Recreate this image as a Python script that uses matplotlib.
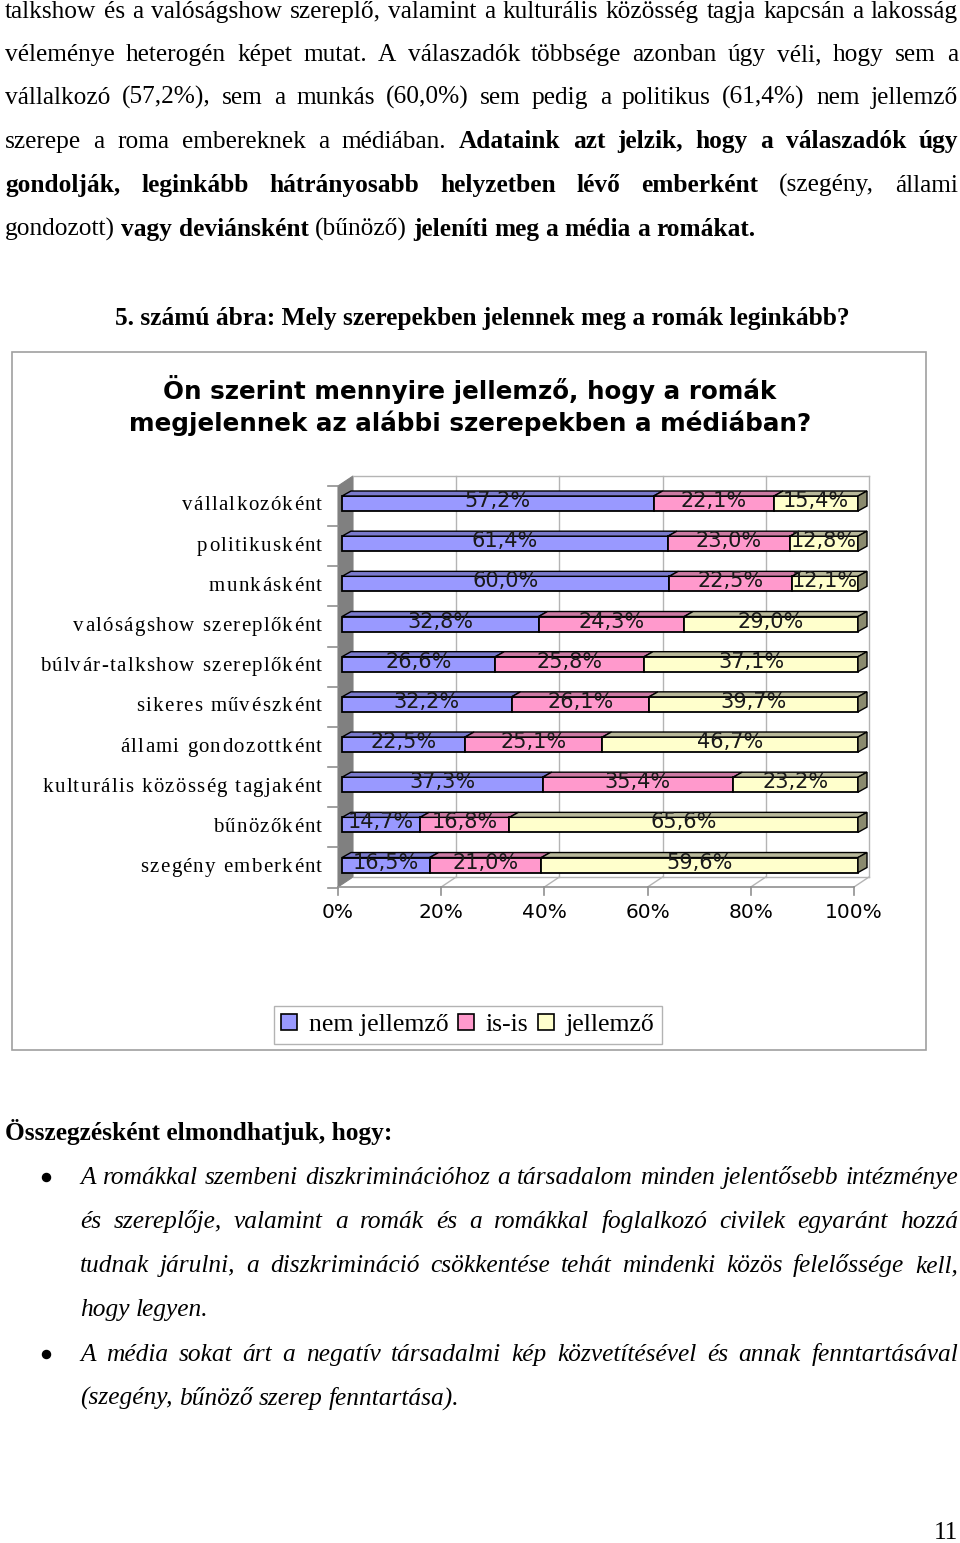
import matplotlib
matplotlib.use('Agg')
import matplotlib.pyplot as plt
from matplotlib.patches import Polygon, Rectangle
from matplotlib.lines import Line2D
import numpy as np

W, H = 960, 1543

# Adatok (5. számú ábra)
categories = ['vállalkozóként', 'politikusként', 'munkásként', 'valóságshow szereplőként',
              'búlvár-talkshow szereplőként', 'sikeres művészként', 'állami gondozottként',
              'kulturális közösség tagjaként', 'bűnözőként', 'szegény emberként']
nem_jellemzo = [57.2, 61.4, 60.0, 32.8, 26.6, 32.2, 22.5, 37.3, 14.7, 16.5]
is_is = [22.1, 23.0, 22.5, 24.3, 25.8, 26.1, 25.1, 35.4, 16.8, 21.0]
jellemzo = [15.4, 12.8, 12.1, 29.0, 37.1, 39.7, 46.7, 23.2, 65.6, 59.6]
series_names = ['nem jellemző', 'is-is', 'jellemző']
x_ticks = [0, 20, 40, 60, 80, 100]

colors = ['#9999FF', '#FF99CC', '#FFFFCC']
top_colors = ['#7A7ACC', '#CC7AA3', '#B8B89A']
side_color = '#8A8A6E'
FS = 18.3

fig = plt.figure(figsize=(W / 100, H / 100), dpi=100)
renderer = fig.canvas.get_renderer()


def fy(y):
    return 1 - y / H


# ---- szöveg sorkizárással ----
def text_line(y, parts, x0, x1=None, size=FS, style='normal'):
    words = []
    for s, weight in parts:
        for w in s.split():
            words.append((w, weight))
    arts = [fig.text(0, fy(y), w, fontsize=size, family='Liberation Serif', weight=wt,
                     style=style, va='baseline', ha='left') for w, wt in words]
    widths = [t.get_window_extent(renderer).width for t in arts]
    if x1 is None:
        gap = size * 100 / 72 * 0.25
    else:
        gap = (x1 - x0 - sum(widths)) / (len(arts) - 1)
    x = x0
    for t, wd in zip(arts, widths):
        t.set_x(x / W)
        x += wd + gap


N = 'normal'
B = 'bold'
text_line(18, [("talkshow és a valóságshow szereplő, valamint a kulturális közösség tagja kapcsán a lakosság", N)], 5, 958)
text_line(61, [("véleménye heterogén képet mutat. A válaszadók többsége azonban úgy véli, hogy sem a", N)], 5, 958)
text_line(104, [("vállalkozó (57,2%), sem a munkás (60,0%) sem pedig a politikus (61,4%) nem jellemző", N)], 5, 958)
text_line(148, [("szerepe a roma embereknek a médiában.", N), ("Adataink azt jelzik, hogy a válaszadók úgy", B)], 5, 958)
text_line(192, [("gondolják, leginkább hátrányosabb helyzetben lévő emberként", B), ("(szegény, állami", N)], 5, 958)
text_line(236, [("gondozott)", N), ("vagy deviánsként", B), ("(bűnöző)", N), ("jeleníti meg a média a romákat.", B)], 5)

fig.text(482 / W, fy(325), "5. számú ábra: Mely szerepekben jelennek meg a romák leginkább?",
         ha='center', va='baseline', fontsize=FS, family='Liberation Serif', weight='bold')

# keret
fig.patches.append(Rectangle((12 / W, fy(1050)), 914 / W, 698 / H, transform=fig.transFigure,
                             fill=False, edgecolor='#A0A0A0', linewidth=1.2))

# diagram címe
t1 = fig.text(470 / W, fy(390), "Ön szerint mennyire jellemző, hogy a romák", ha='center', va='center',
              fontsize=17, family='DejaVu Sans', weight='bold')
t2 = fig.text(470 / W, fy(423), "megjelennek az alábbi szerepekben a médiában?", ha='center', va='center',
              fontsize=17, family='DejaVu Sans', weight='bold')
scale = 682 / t2.get_window_extent(renderer).width
t1.set_fontsize(17 * scale)
t2.set_fontsize(17 * scale)

# ---- diagram ----
PX = 5.16    # pixel / %
PY = 40.17   # pixel / sor
X0, Y0 = 342, 503.5


def dx(p):
    return p / PX


def dy(p):
    return p / PY


def X(p):
    return (p - X0) / PX


def Y(p):
    return (p - Y0) / PY


ax = fig.add_axes([300 / W, fy(940), 600 / W, 475 / H])
ax.set_xlim(X(300), X(900))
ax.set_ylim(Y(940), Y(465))
ax.axis('off')

grid_c = '#B4B4B4'
# fal
ax.add_patch(Polygon([(dx(-4), Y(486)), (dx(11), Y(476)), (dx(11), Y(877)), (dx(-4), Y(887))],
                     closed=True, facecolor='#808080', edgecolor='#808080', lw=0.8, zorder=1))
ax.plot([dx(11), 100 + dx(11)], [Y(476), Y(476)], color=grid_c, lw=1, zorder=1)
ax.plot([dx(11), 100 + dx(11)], [Y(877), Y(877)], color=grid_c, lw=1, zorder=1)
for t in x_ticks[1:]:
    ax.plot([t + dx(11), t + dx(11)], [Y(476), Y(877)], color=grid_c, lw=1, zorder=1)
    ax.plot([t + dx(11), t + dx(-4)], [Y(877), Y(887)], color=grid_c, lw=1, zorder=1)
ax.plot([dx(-4), 100 + dx(-4)], [Y(887), Y(887)], color='#909090', lw=1.2, zorder=1)
for t in x_ticks:
    ax.plot([t + dx(-4), t + dx(-4)], [Y(887), Y(895)], color='#909090', lw=1.2, zorder=1)
    ax.text(t + dx(-4), Y(913), f"{t}%", ha='center', va='center', fontsize=14.5, family='DejaVu Sans')

rows = np.arange(len(categories))
for i in range(len(categories) + 1):
    yb = i - 0.5 + dy(2.5)
    ax.plot([X(328), X(338)], [yb, yb], color='#909090', lw=1.2, zorder=1)


# ritkított kategóriafeliratok (jobbra igazítva)
def spaced_label(x_right, y, s, size=15, track=1.3):
    arts = [fig.text(0, fy(y), ch, fontsize=size, family='Liberation Serif', va='center', ha='left')
            for ch in s]
    widths = [renderer.points_to_pixels(size) * 0.25 if ch == ' ' else
              a.get_window_extent(renderer).width for ch, a in zip(s, arts)]
    total = sum(widths) + track * (len(s) - 1)
    x = x_right - total
    for a, wd in zip(arts, widths):
        a.set_x(x / W)
        x += wd + track


for i, c in enumerate(categories):
    spaced_label(322, Y0 + i * PY + 2.5, c)

data = np.array([nem_jellemzo, is_is, jellemzo])
totals = data.sum(axis=0)
share = data / totals * 100
bh = 15 / PY
ddx, ddy = dx(9), dy(-5)
lefts = np.zeros(len(categories))
for s in range(3):
    ax.barh(rows, share[s], left=lefts, height=bh, color=colors[s], edgecolor='black',
            linewidth=1.3, zorder=3, label=series_names[s])
    for i in rows:
        l, w = lefts[i], share[s][i]
        yt = i - bh / 2
        ax.add_patch(Polygon([(l, yt), (l + w, yt), (l + w + ddx, yt + ddy), (l + ddx, yt + ddy)],
                             closed=True, facecolor=top_colors[s], edgecolor='black', lw=1, zorder=3))
        lbl = f"{data[s][i]:.1f}%".replace('.', ',')
        ax.text(l + w / 2, i - dy(2.5), lbl, ha='center', va='center', fontsize=15,
                family='DejaVu Sans', color='#1a1a1a', zorder=5)
    lefts = lefts + share[s]
for i in rows:
    yt, yb = i - bh / 2, i + bh / 2
    ax.add_patch(Polygon([(100, yt), (100 + ddx, yt + ddy), (100 + ddx, yb + ddy), (100, yb)],
                         closed=True, facecolor=side_color, edgecolor='black', lw=1, zorder=3))

handles = [Rectangle((0, 0), 1, 1, facecolor=c, edgecolor='black', lw=1.2) for c in colors]
leg = fig.legend(handles, series_names, loc='center', bbox_to_anchor=(468 / W, fy(1025)), ncol=3,
                 frameon=True, fancybox=False, edgecolor='#A0A0A0', handlelength=0.62, handleheight=0.62,
                 handletextpad=0.45, columnspacing=0.38, borderpad=0.3, borderaxespad=0,
                 prop={'family': 'Liberation Serif', 'size': 18.5})
leg.get_frame().set_linewidth(1)

# ---- összegzés ----
fig.text(5 / W, fy(1140), "Összegzésként elmondhatjuk, hogy:", ha='left', va='baseline',
         fontsize=FS, family='Liberation Serif', weight='bold')
for yc in (1177, 1354):
    fig.add_artist(Line2D([46 / W], [fy(yc)], marker='o', markersize=5.8, color='black',
                          transform=fig.transFigure))
text_line(1184, [("A romákkal szembeni diszkriminációhoz a társadalom minden jelentősebb intézménye", N)], 80, 958, style='italic')
text_line(1228, [("és szereplője, valamint a romák és a romákkal foglalkozó civilek egyaránt hozzá", N)], 80, 958, style='italic')
text_line(1272, [("tudnak járulni, a diszkrimináció csökkentése tehát mindenki közös felelőssége kell,", N)], 80, 958, style='italic')
text_line(1316, [("hogy legyen.", N)], 80, style='italic')
text_line(1361, [("A média sokat árt a negatív társadalmi kép közvetítésével és annak fenntartásával", N)], 80, 958, style='italic')
text_line(1405, [("(szegény, bűnöző szerep fenntartása).", N)], 80, style='italic')

fig.text(958 / W, fy(1539), "11", ha='right', va='baseline', fontsize=FS, family='Liberation Serif')

fig.savefig('out.png', dpi=100)
